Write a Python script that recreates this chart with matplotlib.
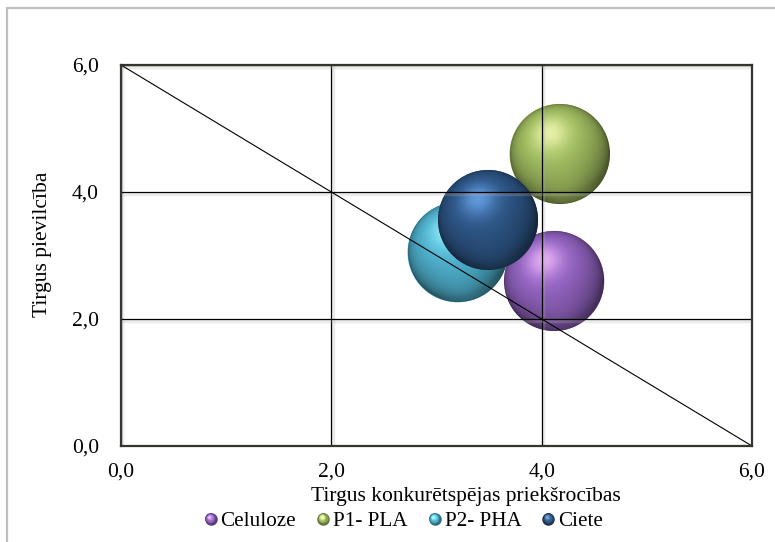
import numpy as np
import matplotlib
matplotlib.use("Agg")
import matplotlib.pyplot as plt
import matplotlib.patheffects as pe
from matplotlib.lines import Line2D
from matplotlib.legend_handler import HandlerBase
from matplotlib.offsetbox import OffsetImage, AnnotationBbox
from matplotlib.patches import Rectangle
from matplotlib.ticker import FuncFormatter, MultipleLocator
from matplotlib.colors import to_rgb

# --- data -------------------------------------------------------------
products = ["Celuloze", "P1- PLA", "P2- PHA", "Ciete"]
competitiveness = [4.12, 4.17, 3.20, 3.49]   # Tirgus konkurētspējas priekšrocības
attractiveness = [2.60, 4.60, 3.05, 3.56]    # Tirgus pievilcība
bubble_size = [1.0, 1.0, 1.0, 1.0]
colors = ["#9263c0", "#a0bc60", "#50b2cf", "#2d5585"]

diag_x = [0, 6]
diag_y = [6, 0]

plt.rcParams["font.family"] = ["Liberation Serif", "DejaVu Serif"]

DPI = 100
fig = plt.figure(figsize=(7.75, 5.42), dpi=DPI)
ax = fig.add_axes([121 / 775, 1 - 446 / 542, 631 / 775, 381 / 542])

# outer chart-area border (left and top edges visible)
fig.patches.append(Rectangle((7 / 775, -0.05), 1.2, 1 - 8 / 542 + 0.05,
                             transform=fig.transFigure, fill=False,
                             edgecolor="#c0c0c0", linewidth=1.6, zorder=0))


def sphere_rgba(color, d, ss=4):
    """Shaded sphere sprite of diameter d pixels (RGBA, antialiased)."""
    base = np.array(to_rgb(color))
    n = d * ss
    t = (np.arange(n) + 0.5) / n * 2 - 1
    u, v = np.meshgrid(t, -t)
    r2 = u ** 2 + v ** 2
    inside = (r2 <= 1.0).astype(float)
    z = np.sqrt(np.clip(1 - r2, 0, 1))
    L = np.array([-0.2, 0.42, 0.88]); L /= np.linalg.norm(L)
    diff = np.clip(u * L[0] + v * L[1] + z * L[2], 0, 1)
    shade = 0.5 + 0.58 * diff
    col = base[None, None, :] * shade[..., None]
    hl = np.clip(base * 1.5 + 0.2, 0, 1)
    spec = (diff ** 16 * 0.7)[..., None]
    col = col + (hl - col) * spec
    # soft reflected light near the bottom
    R = np.array([0.15, -0.85, 0.5]); R /= np.linalg.norm(R)
    refl = np.clip(u * R[0] + v * R[1] + z * R[2], 0, 1) ** 5 * 0.3
    col = col + base * refl[..., None] * 0.5
    # rim darkening
    rim = (1 - z) ** 4 * 0.25
    col = col * (1 - rim[..., None])
    col = np.clip(col, 0, 1)
    rgba = np.concatenate([col * inside[..., None], inside[..., None]], axis=2)
    rgba = rgba.reshape(d, ss, d, ss, 4).mean(axis=(1, 3))
    a = rgba[..., 3:4]
    rgb = np.where(a > 0, rgba[..., :3] / np.maximum(a, 1e-6), 0)
    return np.concatenate([rgb, a], axis=2)


# bubbles: flat scatter disc + shaded sprite on top, same diameter
max_diam_px = 100
smax = max(bubble_size)
for i, (x, y, s, c) in enumerate(zip(competitiveness, attractiveness,
                                     bubble_size, colors)):
    d_px = int(round(max_diam_px * np.sqrt(s / smax)))
    d_pt = d_px * 72 / DPI
    ax.scatter([x], [y], s=d_pt ** 2, color=c, edgecolors="none",
               zorder=1 + 0.1 * i)
    img = OffsetImage(sphere_rgba(c, d_px), zoom=1, dpi_cor=False)
    ab = AnnotationBbox(img, (x, y), xycoords="data", frameon=False,
                        pad=0, box_alignment=(0.5, 0.5))
    ab.set_zorder(1.05 + 0.1 * i)
    ax.add_artist(ab)

# diagonal separating line
ax.plot(diag_x, diag_y, color="black", linewidth=0.8, zorder=3)

ax.set_xlim(0, 6)
ax.set_ylim(0, 6)
ax.xaxis.set_major_locator(MultipleLocator(2))
ax.yaxis.set_major_locator(MultipleLocator(2))
fmt = FuncFormatter(lambda v, p: f"{v:.1f}".replace(".", ","))
ax.xaxis.set_major_formatter(fmt)
ax.yaxis.set_major_formatter(fmt)
ax.tick_params(length=0, labelsize=15.5, labelcolor="black")
ax.tick_params(axis="x", pad=12)
ax.tick_params(axis="y", pad=16)

ax.set_axisbelow(False)
ax.grid(True, color="black", linewidth=0.9, zorder=2.5,
        path_effects=[pe.SimpleLineShadow(offset=(1.0, -1.6), shadow_color="#b0b0b0",
                                          alpha=0.25, linewidth=2.5),
                      pe.Normal()])
for sp in ax.spines.values():
    sp.set_color("#35352f")
    sp.set_linewidth(1.6)
    sp.set_zorder(4)

ax.set_xlabel("Tirgus konkurētspējas priekšrocības", fontsize=15.5, va="center")
ax.xaxis.set_label_coords((466 - 121) / 631, (446 - 497) / 381)
ax.set_ylabel("Tirgus pievilcība", fontsize=15.5, va="center")
ax.yaxis.set_label_coords((43 - 121) / 631, (446 - 244) / 381)


class HandlerSphere(HandlerBase):
    def create_artists(self, legend, orig_handle, xdescent, ydescent,
                       width, height, fontsize, trans):
        base = np.array(to_rgb(orig_handle.get_markerfacecolor()))
        cx = width / 2 - xdescent
        cy = height / 2 - ydescent
        arts = []
        steps = 7
        ms = 9.0
        for k in range(steps):
            f = k / (steps - 1)
            size = ms * (1 - 0.8 * f)
            col = np.clip(base * (0.6 + 0.65 * f) + 0.25 * f ** 2, 0, 1)
            arts.append(Line2D([cx - 1.0 * f], [cy + 1.2 * f], marker="o",
                               markersize=size, markerfacecolor=col,
                               markeredgecolor="none", linestyle="none",
                               transform=trans))
        return arts


handles = [Line2D([], [], marker="o", linestyle="none", markerfacecolor=c,
                  markeredgecolor="none", markersize=9) for c in colors]
fig.legend(handles, products, loc="center", bbox_to_anchor=(404 / 775, 1 - 521 / 542),
           ncol=4, frameon=False, fontsize=15.2, handlelength=0.55,
           handletextpad=0.2, columnspacing=1.0, borderpad=0,
           handler_map={h: HandlerSphere() for h in handles})

fig.savefig("out.png", dpi=DPI)
